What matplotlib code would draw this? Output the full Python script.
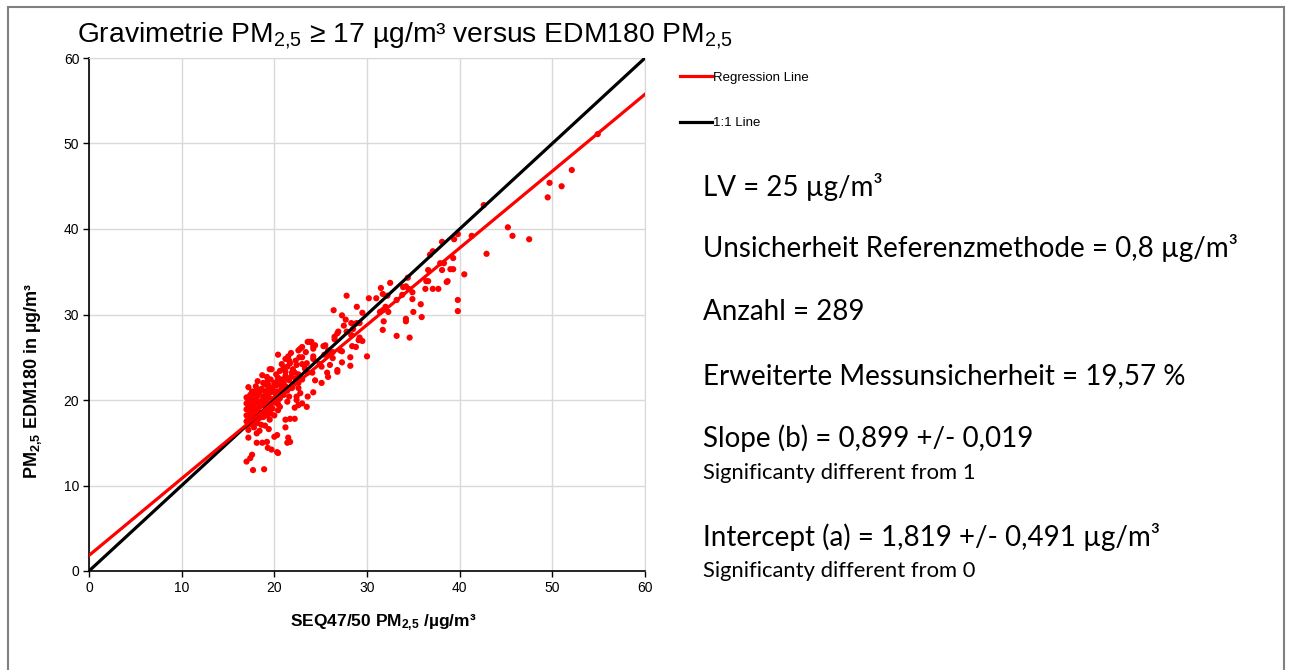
import matplotlib
matplotlib.use("Agg")
import matplotlib.pyplot as plt
from matplotlib.patches import Rectangle
import numpy as np

plt.rcParams['font.family'] = ['Liberation Sans', 'DejaVu Sans']
plt.rcParams['mathtext.fontset'] = 'custom'
plt.rcParams['mathtext.rm'] = 'Liberation Sans'
plt.rcParams['mathtext.default'] = 'regular'

# ---------------- data ----------------
pts_upper = [(54.9,51.1),(52.1,46.9),(51.0,45.0),(49.7,45.4),(49.5,43.7),(47.5,38.8),(45.7,39.2),
             (45.2,40.2),(42.6,42.8),(42.9,37.1),(40.5,34.7),(39.8,31.7),(39.8,30.4),(41.3,39.2),
             (39.8,39.4),(39.4,38.8),(38.1,38.5),(37.1,37.4),(36.8,37.0),(38.3,36.0),(37.9,36.0),
             (39.3,36.6),(39.0,35.3),(39.3,35.3),(38.1,35.2),(36.6,35.2),(38.7,33.9),(36.6,33.9),
             (34.4,34.3),(32.5,33.7),(33.9,33.2),(34.5,33.0),(34.9,32.6),(36.3,33.0),(37.1,33.0),
             (37.7,33.0),(31.5,33.1),(32.2,32.2),(33.8,32.3),(34.9,31.8),(33.2,31.7),(35.8,31.2),
             (32.0,30.9),(35.0,30.3),(35.9,29.7),(31.7,30.5),(34.2,29.5),(38.6,33.8),(36.4,33.9)]
pts_middle = [(34.2,33.3),(31.7,32.4),(30.2,31.9),(31.0,31.9),(27.8,32.2),(28.9,30.9),(26.4,30.5),
              (29.5,30.2),(31.4,30.3),(32.3,30.3),(27.3,29.9),(27.7,29.4),(28.3,29.0),(28.9,29.0),
              (29.2,29.0),(31.8,29.2),(34.2,29.2),(27.5,28.7),(26.9,28.0),(27.8,28.0),(28.5,28.3),
              (31.7,28.2),(26.5,27.4),(28.3,27.6),(29.1,27.0),(33.2,27.5),(34.6,27.3),(28.8,26.2),
              (29.5,26.9),(25.3,26.3),(25.8,25.8),(26.3,25.6),(27.1,25.8),(30.0,25.1),(28.2,25.0),
              (28.7,28.9),(26.5,27.1),(29.2,27.3),(28.4,26.3),(24.0,26.8),(24.2,26.3),(24.2,26.0),
              (22.8,26.0),(25.4,25.3),(27.3,25.7),(26.3,24.9),(28.2,24.0),(26.8,23.5),(25.8,22.7),
              (27.3,24.4),(23.0,25.0),(22.4,24.1),(23.3,23.7),(24.1,23.2),(25.1,23.9),(24.4,22.3),
              (22.8,22.7),(21.9,23.2)]
pts_band = [(23.6,26.8),(24.4,26.4),(26.8,27.8),(20.4,25.3),(21.5,25.1),(22.6,25.8),(22.7,25.0),
            (25.7,25.4),(19.5,23.6),(21.7,24.3),(23.5,24.3),(24.9,24.2),(26.0,24.1),(26.8,23.3),
            (25.7,23.2),(21.2,23.3),(22.2,23.2),(23.6,23.2),(19.2,22.7),(20.4,22.3),(21.4,22.5),
            (22.6,22.0),(25.1,22.0),(24.2,20.9),(19.3,21.2),(20.1,20.8),(20.9,20.8),(21.9,21.4),
            (22.4,20.0),(20.4,20.0),(21.4,19.8),(23.0,19.6),(23.5,19.2),(19.5,19.2),(20.6,19.2),
            (23.6,20.4),(22.8,20.8),(17.2,21.5),(18.1,21.2),(19.0,21.8),(19.7,23.6),(18.7,22.9),
            (19.3,22.3),(23.8,26.8),(25.5,26.4)]
pts_lower = [(22.4,20.4),(22.6,19.4),(22.2,19.1),(20.4,18.8),(21.7,17.8),(22.2,17.8),(21.2,16.8),
             (20.3,15.9),(18.1,16.1),(17.2,15.6),(20.0,15.7),(21.5,15.6),(21.7,15.1),(21.4,15.0),
             (19.2,15.1),(18.1,15.0),(18.7,15.0),(19.3,14.4),(19.7,14.2),(20.3,13.9),(20.4,13.8),
             (17.6,13.6),(17.4,13.2),(17.0,12.8),(17.7,11.8),(18.9,11.9),(17.2,17.1),(18.2,17.3),
             (21.2,17.7),(19.5,17.7)]
pts_dense = [(17.0,17.5),(17.0,18.2),(17.0,18.9),(17.0,19.6),(17.0,20.3),
             (17.2,18.0),(17.2,19.3),(17.2,20.0),(17.2,17.8),(17.2,16.5),
             (17.4,18.6),(17.4,19.8),(17.4,20.6),(17.4,17.2),
             (17.6,17.9),(17.6,19.1),(17.6,20.2),(17.6,21.0),(17.6,18.4),
             (17.8,17.4),(17.8,18.8),(17.8,19.5),(17.8,20.8),(17.8,16.8),
             (18.0,18.2),(18.0,19.0),(18.0,20.1),(18.0,21.6),(18.0,17.6),
             (18.2,18.7),(18.2,19.7),(18.2,20.5),(18.2,22.2),
             (18.4,17.9),(18.4,19.2),(18.4,20.9),(18.4,18.5),(18.4,16.4),
             (18.6,18.3),(18.6,19.9),(18.6,21.3),(18.6,17.1),
             (18.8,19.4),(18.8,20.4),(18.8,18.0),(18.8,22.0),
             (19.0,18.6),(19.0,20.0),(19.0,21.0),(19.0,19.3),(19.0,17.0),
             (19.2,19.8),(19.2,20.7),(19.2,18.2),
             (19.4,18.9),(19.4,20.3),(19.4,21.7),(19.4,16.6),
             (19.6,19.5),(19.6,20.9),(19.6,18.4),(19.6,22.4),
             (19.8,20.1),(19.8,21.4),(19.8,19.0),
             (20.0,19.7),(20.0,21.0),(20.0,22.0),(20.0,18.2),
             (20.2,20.5),(20.2,21.7),(20.2,23.0),
             (20.4,21.0),(20.4,22.6),(20.4,19.5),
             (20.6,20.2),(20.6,21.8),(20.6,23.4),
             (20.8,21.3),(20.8,22.4),(20.8,24.2),
             (21.0,20.6),(21.0,22.0),(21.0,23.8),
             (21.2,21.6),(21.2,22.8),(21.2,24.8),
             (21.4,21.1),(21.4,23.9),
             (21.6,22.3),(21.6,20.4),(21.6,24.6),
             (21.8,22.7),(21.8,25.5),
             (22.0,21.8),(22.0,23.6),
             (22.3,22.5),(22.3,24.6),
             (22.6,23.0),(22.6,21.4),
             (23.0,22.4),(23.0,24.2),(23.0,26.2),
             (23.4,23.5),(23.4,25.6),
             (24.2,24.8),(24.2,25.1)]

all_pts = pts_upper + pts_middle + pts_band + pts_lower + pts_dense
seq_x = [p[0] for p in all_pts]
edm_y = [p[1] for p in all_pts]

slope = 0.899
intercept = 1.819
line_x = [0, 60]

axis_ticks = [0, 10, 20, 30, 40, 50, 60]

stats_lines = ["LV = 25 µg/m³",
               "Unsicherheit Referenzmethode = 0,8 µg/m³",
               "Anzahl = 289",
               "Erweiterte Messunsicherheit = 19,57 %",
               "Slope (b) = 0,899 +/- 0,019",
               "Intercept (a) = 1,819 +/- 0,491 µg/m³"]
sig_lines = ["Significanty different from 1", "Significanty different from 0"]

# ---------------- figure ----------------
W, H = 1290, 670
fig = plt.figure(figsize=(W/100, H/100), dpi=100)
fig.patches.append(Rectangle((8/W, -0.05), (1284-8)/W, 1.05 - 7/H, transform=fig.transFigure,
                             fill=False, edgecolor='#808080', linewidth=1.5))

ax = fig.add_axes([89/W, 1-571/H, (645-89)/W, (571-58)/H])
ax.set_xlim(0, 60)
ax.set_ylim(0, 60)
ax.set_xticks(axis_ticks)
ax.set_yticks(axis_ticks)
ax.grid(True, color='#d9d9d9', linewidth=1.0)
ax.set_axisbelow(True)
for s in ['top', 'right']:
    ax.spines[s].set_color('#d9d9d9')
for s in ['left', 'bottom']:
    ax.spines[s].set_color('black')
    ax.spines[s].set_linewidth(1.2)
ax.tick_params(direction='out', length=4, width=1, labelsize=10, colors='black', pad=3)

ax.scatter(seq_x, edm_y, s=20, color='#ff0000', edgecolors='none', zorder=3)
reg_y = [intercept + slope*v for v in line_x]
one_line, = ax.plot(line_x, line_x, color='black', lw=2.3, zorder=4, label='1:1 Line')
reg_line, = ax.plot(line_x, reg_y, color='#ff0000', lw=2.3, zorder=5, label='Regression Line')

ax.set_xlabel('SEQ47/50 PM$_{2{,}5}$ /µg/m³', fontsize=12.5, fontweight='bold')
ax.set_ylabel('PM$_{2{,}5}$ EDM180 in µg/m³', fontsize=13, fontweight='bold')
ax.xaxis.set_label_coords((383-89)/556, (571-612)/513)
ax.yaxis.set_label_coords((44-89)/556, (571-381)/513)

fig.legend(handles=[reg_line, one_line], loc='upper left', bbox_to_anchor=(668/W, 1-60/H),
           frameon=False, fontsize=9.5, handlelength=2.4, handletextpad=0.1, labelspacing=2.5)

fig.text(77/W, 1-36/H, 'Gravimetrie PM$_{2{,}5}$ ≥ 17 µg/m³ versus EDM180 PM$_{2{,}5}$',
         fontsize=20.3, va='center', ha='left')

stats_y = [187, 248, 312, 376, 438, 537]
for t, yy in zip(stats_lines, stats_y):
    fig.text(703/W, 1-yy/H, t, fontsize=20, family=['Lato', 'DejaVu Sans'], va='center', ha='left')
for t, yy in zip(sig_lines, [473, 571]):
    fig.text(703/W, 1-yy/H, t, fontsize=15.8, family=['Lato', 'DejaVu Sans'], va='center', ha='left')

fig.savefig('out.png', dpi=100)
